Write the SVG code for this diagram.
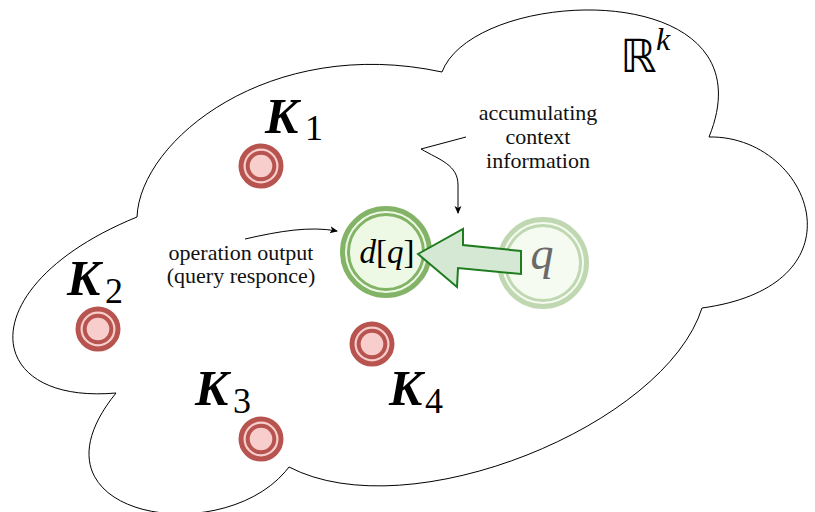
<svg xmlns="http://www.w3.org/2000/svg" width="815" height="512" viewBox="0 0 815 512">
  <defs>
    <marker id="arr" markerWidth="8" markerHeight="8" refX="7" refY="3.5" orient="auto" markerUnits="userSpaceOnUse">
      <path d="M0,0 L8,3.5 L0,7 L2,3.5 Z" fill="#000"/>
    </marker>
  </defs>
  <style>
    .cloud { fill: #fff; stroke: #000; stroke-width: 1; }
    .rOut { fill: #f8cecc; stroke: #b85450; stroke-width: 5; }
    .rIn { fill: #f8cecc; stroke: #b85450; stroke-width: 4; }
    .gOut { fill: #edf9e5; stroke: #82b366; stroke-width: 5; }
    .gIn { fill: #edf9e5; stroke: #82b366; stroke-width: 3; }
    .lbl { font-family: "Liberation Serif", "DejaVu Serif", serif; font-size: 22px; fill: #111; }
    .K { font-family: "Liberation Serif", serif; font-style: italic; font-weight: bold; font-size: 50px; fill: #000; }
    .sub { font-family: "Liberation Serif", serif; font-size: 36px; fill: #000; }
    .math { font-family: "Liberation Serif", serif; font-style: italic; fill: #000; }
    .conn { fill: none; stroke: #000; stroke-width: 1; }
  </style>
  <rect width="815" height="512" fill="#fff"/>
  <g id="space">
    <path class="cloud" d="M137,217 C140,140 270,35 442,72 C475,-15 775,-25 709,137 C810,135 870,285 702,308 C665,425 410,530 289,467 C225,552 15,518 116,393 C-20,405 -30,285 137,217 Z"/>
    <text x="620" y="72" font-family="DejaVu Sans, sans-serif" font-size="46">ℝ</text>
    <text x="656" y="50" class="math" font-size="32">k</text>
  </g>
  <g id="k1">
    <circle class="rOut" cx="261" cy="166" r="20"/>
    <circle class="rIn" cx="261" cy="166" r="13.3"/>
    <text class="K" x="265" y="133">K</text>
    <text class="sub" x="305" y="140">1</text>
  </g>
  <g id="k2">
    <circle class="rOut" cx="98" cy="329" r="20"/>
    <circle class="rIn" cx="98" cy="329" r="13.3"/>
    <text class="K" x="67" y="295">K</text>
    <text class="sub" x="105" y="303">2</text>
  </g>
  <g id="k3">
    <circle class="rOut" cx="261" cy="439" r="20"/>
    <circle class="rIn" cx="261" cy="439" r="13.3"/>
    <text class="K" x="195" y="405">K</text>
    <text class="sub" x="233" y="413">3</text>
  </g>
  <g id="k4">
    <circle class="rOut" cx="372" cy="344" r="20"/>
    <circle class="rIn" cx="372" cy="344" r="13.3"/>
    <text class="K" x="389" y="405">K</text>
    <text class="sub" x="425" y="413">4</text>
  </g>
  <g id="dq">
    <circle class="gOut" cx="386" cy="252" r="43.5"/>
    <circle class="gIn" cx="386" cy="252" r="37.5"/>
    <text class="math" x="387" y="263" font-size="33" text-anchor="middle">d<tspan font-style="normal">[</tspan>q<tspan font-style="normal">]</tspan></text>
  </g>
  <g id="q">
    <g opacity="0.5">
      <circle class="gOut" cx="543" cy="263" r="43.5"/>
      <circle class="gIn" cx="543" cy="263" r="37.5"/>
    </g>
    <text class="math" x="542" y="269" font-size="46" text-anchor="middle" fill="#6a6a6a" style="fill:#6a6a6a">q</text>
  </g>
  <g id="label-output">
    <text class="lbl" x="241" y="260" text-anchor="middle">operation output</text>
    <text class="lbl" x="241" y="283" text-anchor="middle">(query responce)</text>
  </g>
  <g id="label-context">
    <text class="lbl" x="538" y="120" text-anchor="middle">accumulating</text>
    <text class="lbl" x="538" y="144" text-anchor="middle">context</text>
    <text class="lbl" x="538" y="168" text-anchor="middle">information</text>
  </g>
  <g id="connectors">
    <polygon points="418,254 463,229 463,245 521,251 521,274 458,268 457,287" fill="#d5e8d4" stroke="#1e7b1e" stroke-width="2" stroke-linejoin="miter"/>
    <path class="conn" d="M245,239 C280,231 310,226 337,231" marker-end="url(#arr)"/>
    <path class="conn" d="M466,137 L421,149 C440,160 458,165 458,185 L458,213" marker-end="url(#arr)"/>
  </g>
</svg>
